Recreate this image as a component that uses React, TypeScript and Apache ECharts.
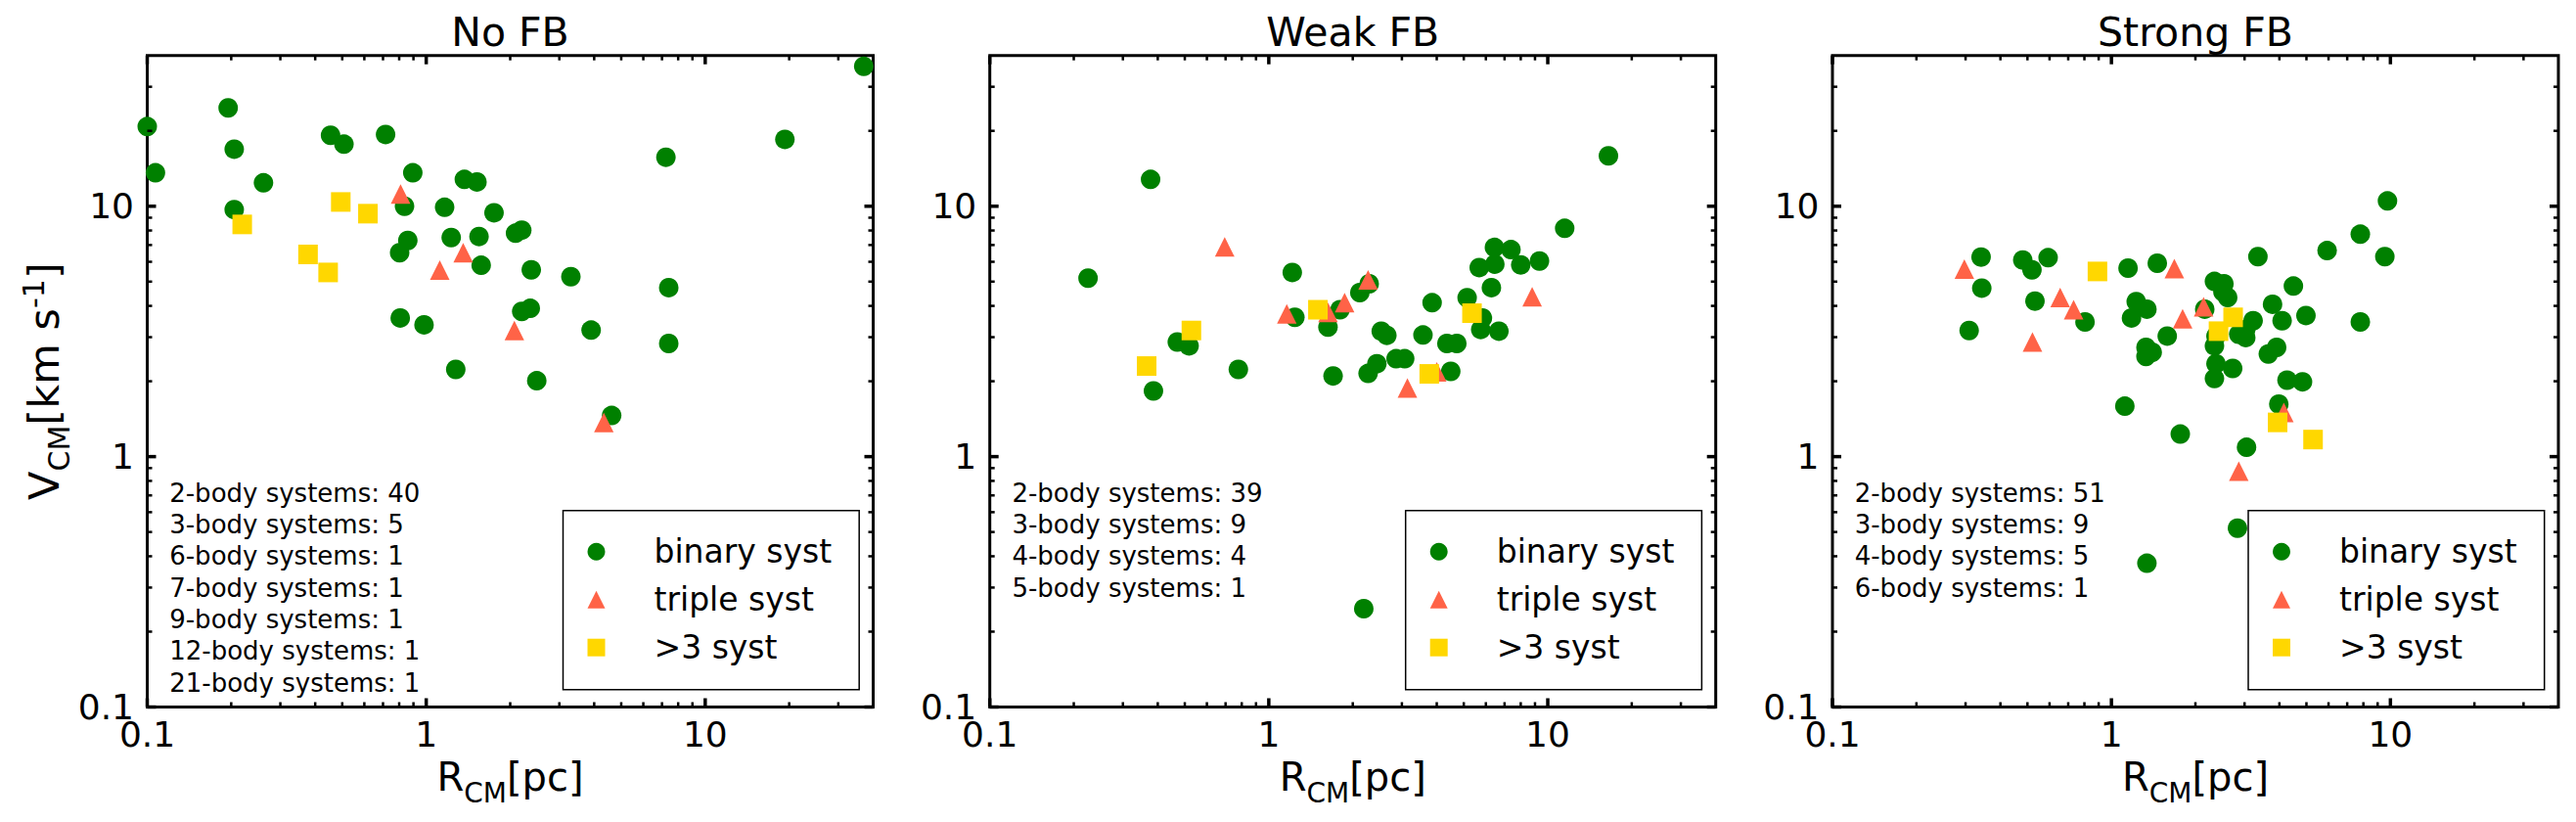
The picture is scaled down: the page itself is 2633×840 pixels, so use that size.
import React, { useEffect, useRef } from 'react';
import * as echarts from 'echarts';

const FONT = 'DejaVu Sans';
const GREEN = '#008000';
const TOMATO = '#FF6347';
const GOLD = '#FFD700';

const panelTitles = ['No FB', 'Weak FB', 'Strong FB'];
const seriesNames = ['binary syst', 'triple syst', '>3 syst'];

// [R_CM (pc), V_CM (km/s)]
const noFbBinary = [
  [0.195, 24.7], [0.1, 20.8], [0.205, 16.9], [0.107, 13.6], [0.261, 12.4], [0.205, 9.7],
  [0.454, 19.2], [0.507, 17.7], [0.715, 19.35], [0.895, 13.6], [1.37, 12.8], [1.52, 12.5],
  [0.836, 10.0], [1.164, 9.9], [1.75, 9.42], [0.859, 7.3], [0.803, 6.52], [1.229, 7.5],
  [1.546, 7.57], [1.574, 5.81], [0.807, 3.58], [0.982, 3.36], [1.276, 2.23],
  [2.09, 7.8], [2.2, 8.03], [2.38, 5.57], [3.3, 5.23], [7.23, 15.7], [19.3, 18.5],
  [37.0, 36.2], [7.4, 4.73], [7.4, 2.83], [2.2, 3.8], [2.36, 3.91], [3.9, 3.2],
  [2.49, 2.01], [4.62, 1.46],
];
const noFbTriple = [[0.809, 11.2], [1.357, 6.52], [1.118, 5.56], [2.07, 3.19], [4.33, 1.37]];
const noFbMulti = [[0.219, 8.46], [0.494, 10.4], [0.618, 9.34], [0.377, 6.42], [0.445, 5.44]];

const weakFbBinary = [
  [0.377, 12.8], [0.225, 5.16], [0.47, 2.87], [0.518, 2.77], [0.386, 1.83], [0.778, 2.23],
  [1.214, 5.44], [1.24, 3.6], [1.63, 3.29], [1.8, 3.86], [1.7, 2.1], [2.12, 4.52], [2.29, 4.9],
  [2.53, 3.17], [2.65, 3.05], [2.27, 2.15], [2.44, 2.35], [2.86, 2.46], [3.07, 2.46],
  [3.57, 3.06], [3.85, 4.12], [4.35, 2.83], [4.72, 2.83], [4.49, 2.19], [5.14, 4.31],
  [5.83, 3.58], [5.75, 3.22], [6.68, 3.17], [6.28, 4.73], [5.68, 5.69], [6.46, 5.87],
  [6.44, 6.85], [7.38, 6.71], [8.0, 5.83], [9.34, 6.04], [11.5, 8.16], [16.5, 15.9],
  [2.19, 0.247],
];
const weakFbTriple = [[0.695, 6.88], [1.16, 3.72], [1.63, 3.77], [1.87, 4.12], [2.27, 5.08], [3.14, 1.88], [4.0, 2.18], [8.79, 4.35]];
const weakFbMulti = [[0.528, 3.19], [0.365, 2.3], [1.5, 3.86], [5.35, 3.74], [3.76, 2.14]];

const strongFbBinary = [
  [0.341, 6.27], [0.343, 4.71], [0.309, 3.19], [0.481, 6.1], [0.519, 5.57], [0.593, 6.23],
  [0.532, 4.18], [0.804, 3.45], [1.147, 5.66], [1.46, 5.92], [1.227, 4.16], [1.34, 3.88],
  [1.18, 3.58], [1.585, 3.03], [1.33, 2.73], [1.4, 2.61], [1.33, 2.51], [1.117, 1.59],
  [1.765, 1.23], [2.16, 3.88], [2.34, 5.01], [2.53, 4.9], [2.51, 4.55], [2.61, 4.32],
  [2.37, 3.03], [2.34, 2.77], [2.37, 2.35], [2.72, 2.25], [2.34, 2.05], [3.05, 1.09],
  [3.22, 3.49], [3.03, 3.22], [2.86, 3.08], [3.03, 2.99], [3.35, 6.29], [3.78, 4.06],
  [4.09, 3.49], [3.91, 2.73], [3.65, 2.57], [4.49, 4.8], [4.98, 3.66], [4.26, 2.02],
  [4.84, 1.99], [3.98, 1.62], [5.93, 6.65], [7.8, 7.73], [9.76, 10.5], [9.55, 6.29],
  [7.8, 3.45], [1.34, 0.375], [2.83, 0.518],
];
const strongFbTriple = [[0.297, 5.61], [0.655, 4.32], [0.732, 3.86], [0.521, 2.87], [1.68, 5.64], [1.8, 3.55], [2.14, 3.97], [4.15, 1.5], [2.86, 0.874]];
const strongFbMulti = [[0.891, 5.49], [2.73, 3.6], [2.42, 3.17], [3.94, 1.37], [5.28, 1.17]];

const noFbCounts = ['2-body systems: 40', '3-body systems: 5', '6-body systems: 1', '7-body systems: 1', '9-body systems: 1', '12-body systems: 1', '21-body systems: 1'];
const weakFbCounts = ['2-body systems: 39', '3-body systems: 9', '4-body systems: 4', '5-body systems: 1'];
const strongFbCounts = ['2-body systems: 51', '3-body systems: 9', '4-body systems: 5', '6-body systems: 1'];

const tickValues = [0.1, 1, 10];
const tickLabels = ['0.1', '1', '10'];
const minorTickValues = [0.2, 0.3, 0.4, 0.5, 0.6, 0.7, 0.8, 0.9, 2, 3, 4, 5, 6, 7, 8, 9, 20, 30];
const AXIS_MIN = 0.1;
const AXIS_MAX = 40;

const panels = [
  { binary: noFbBinary, triple: noFbTriple, multi: noFbMulti, counts: noFbCounts },
  { binary: weakFbBinary, triple: weakFbTriple, multi: weakFbMulti, counts: weakFbCounts },
  { binary: strongFbBinary, triple: strongFbTriple, multi: strongFbMulti, counts: strongFbCounts },
];

// layout
const GRID_LEFTS = [150.5, 1011.7, 1873];
const GRID_TOP = 56.7;
const GRID_W = 742;
const GRID_H = 665.8;

const fmtTick = (v: number) => {
  for (let i = 0; i < tickValues.length; i++) {
    if (Math.abs(v - tickValues[i]) / tickValues[i] < 1e-6) return tickLabels[i];
  }
  return '';
};

function tickSeries(i: number, axis: 'x' | 'y') {
  const all = [
    ...tickValues.map((v) => [v, 1]),
    ...minorTickValues.map((v) => [v, 0]),
  ];
  const data = all.map(([v, m]) => (axis === 'x' ? [v, AXIS_MIN, m] : [AXIS_MIN, v, m]));
  return {
    type: 'custom',
    xAxisIndex: i,
    yAxisIndex: i,
    silent: true,
    clip: false,
    z: 5,
    encode: { x: 0, y: 1 },
    data,
    renderItem: (params: any, api: any) => {
      const v = api.value(axis === 'x' ? 0 : 1);
      const major = api.value(2) === 1;
      const len = major ? 9 : 5;
      const style = { stroke: '#000', lineWidth: major ? 3.5 : 2.5 };
      if (axis === 'x') {
        const a = api.coord([v, AXIS_MIN]);
        const b = api.coord([v, AXIS_MAX]);
        return {
          type: 'group',
          children: [
            { type: 'line', shape: { x1: a[0], y1: a[1], x2: a[0], y2: a[1] - len }, style },
            { type: 'line', shape: { x1: b[0], y1: b[1], x2: b[0], y2: b[1] + len }, style },
          ],
        };
      }
      const a = api.coord([AXIS_MIN, v]);
      const b = api.coord([AXIS_MAX, v]);
      return {
        type: 'group',
        children: [
          { type: 'line', shape: { x1: a[0], y1: a[1], x2: a[0] + len, y2: a[1] }, style },
          { type: 'line', shape: { x1: b[0], y1: b[1], x2: b[0] - len, y2: b[1] }, style },
        ],
      };
    },
  };
}

function buildOption() {
  const grid = GRID_LEFTS.map((l) => ({
    left: l, top: GRID_TOP, width: GRID_W, height: GRID_H,
    show: true, borderColor: '#000', borderWidth: 3, backgroundColor: 'transparent',
  }));
  const xAxis = GRID_LEFTS.map((_, i) => ({
    type: 'log', gridIndex: i, logBase: 10, min: AXIS_MIN, max: AXIS_MAX,
    axisLine: { show: false }, axisTick: { show: false }, splitLine: { show: false },
    axisLabel: { fontSize: 36, fontFamily: FONT, color: '#000', margin: 10, formatter: fmtTick },
    name: '{r|R}{s|CM}{r|[pc]}',
    nameLocation: 'middle',
    nameGap: 51,
    nameTextStyle: {
      rich: {
        r: { fontSize: 40, fontFamily: FONT, color: '#000', lineHeight: 48, verticalAlign: 'top' },
        s: { fontSize: 28, fontFamily: FONT, color: '#000', lineHeight: 30, padding: [22.5, 0, 0, 0], verticalAlign: 'top' },
      },
    },
  }));
  const yAxis = GRID_LEFTS.map((_, i) => ({
    type: 'log', gridIndex: i, logBase: 10, min: AXIS_MIN, max: AXIS_MAX,
    axisLine: { show: false }, axisTick: { show: false }, splitLine: { show: false },
    axisLabel: { fontSize: 36, fontFamily: FONT, color: '#000', margin: 13.5, formatter: fmtTick },
    ...(i === 0
      ? {
          name: '{r|V}{s|CM}{r|[km s}{p|-1}{r|]}',
          nameLocation: 'middle',
          nameGap: 78,
          nameRotate: 90,
          nameTextStyle: {
            rich: {
              r: { fontSize: 43, fontFamily: FONT, color: '#000', lineHeight: 50, padding: [6, 0, 0, 0], verticalAlign: 'top' },
              s: { fontSize: 30, fontFamily: FONT, color: '#000', lineHeight: 34, padding: [28, 0, 0, 0], verticalAlign: 'top' },
              p: { fontSize: 30, fontFamily: FONT, color: '#000', lineHeight: 34, padding: [2, 0, 0, 0], verticalAlign: 'top' },
            },
          },
        }
      : {}),
  }));

  const series: any[] = [];
  panels.forEach((p, i) => {
    series.push({
      type: 'scatter', name: seriesNames[0], xAxisIndex: i, yAxisIndex: i,
      data: p.binary, symbol: 'circle', symbolSize: 20, itemStyle: { color: GREEN, opacity: 1 }, z: 2,
    });
    series.push({
      type: 'scatter', name: seriesNames[1], xAxisIndex: i, yAxisIndex: i,
      data: p.triple, symbol: 'triangle', symbolSize: 20, itemStyle: { color: TOMATO, opacity: 1 }, z: 3,
    });
    series.push({
      type: 'scatter', name: seriesNames[2], xAxisIndex: i, yAxisIndex: i,
      data: p.multi, symbol: 'rect', symbolSize: 20, itemStyle: { color: GOLD, opacity: 1 }, z: 3,
    });
    series.push(tickSeries(i, 'x'));
    series.push(tickSeries(i, 'y'));
  });

  const legend = GRID_LEFTS.map((l) => ({
    left: l + 425, top: 521.7, orient: 'vertical',
    data: [
      { name: seriesNames[0], icon: 'circle' },
      { name: seriesNames[1], icon: 'triangle' },
      { name: seriesNames[2], icon: 'rect' },
    ],
    itemWidth: 18, itemHeight: 18, itemGap: 11,
    padding: [23, 28, 24, 25],
    borderColor: '#000', borderWidth: 1.5, borderRadius: 0, backgroundColor: '#fff',
    textStyle: { fontSize: 33, fontFamily: FONT, color: '#000', lineHeight: 38, padding: [0, 0, 0, 45] },
    selectedMode: false,
  }));

  const graphic: any[] = [];
  panelTitles.forEach((t, i) => {
    graphic.push({
      type: 'text', x: GRID_LEFTS[i] + GRID_W / 2, y: 32.5,
      style: { text: t, fontSize: 41, fontFamily: FONT, fill: '#000', align: 'center', verticalAlign: 'middle' },
    });
  });
  panels.forEach((p, i) => {
    graphic.push({
      type: 'text', x: GRID_LEFTS[i] + 22.7, y: 487.7,
      style: { text: p.counts.join('\n'), fontSize: 26, fontFamily: FONT, lineHeight: 32.3, fill: '#000', align: 'left', verticalAlign: 'top' },
    });
  });

  return {
    animation: false,
    backgroundColor: '#fff',
    textStyle: { fontFamily: FONT },
    grid, xAxis, yAxis, series, legend, graphic,
  };
}

export default function App() {
  const ref = useRef<HTMLDivElement>(null);
  useEffect(() => {
    if (!ref.current) return;
    const chart = echarts.init(ref.current, undefined, { renderer: 'svg' });
    chart.setOption(buildOption() as any);
    return () => chart.dispose();
  }, []);
  return <div ref={ref} style={{ position: 'absolute', left: 0, top: 0, width: 2633, height: 840 }} />;
}
